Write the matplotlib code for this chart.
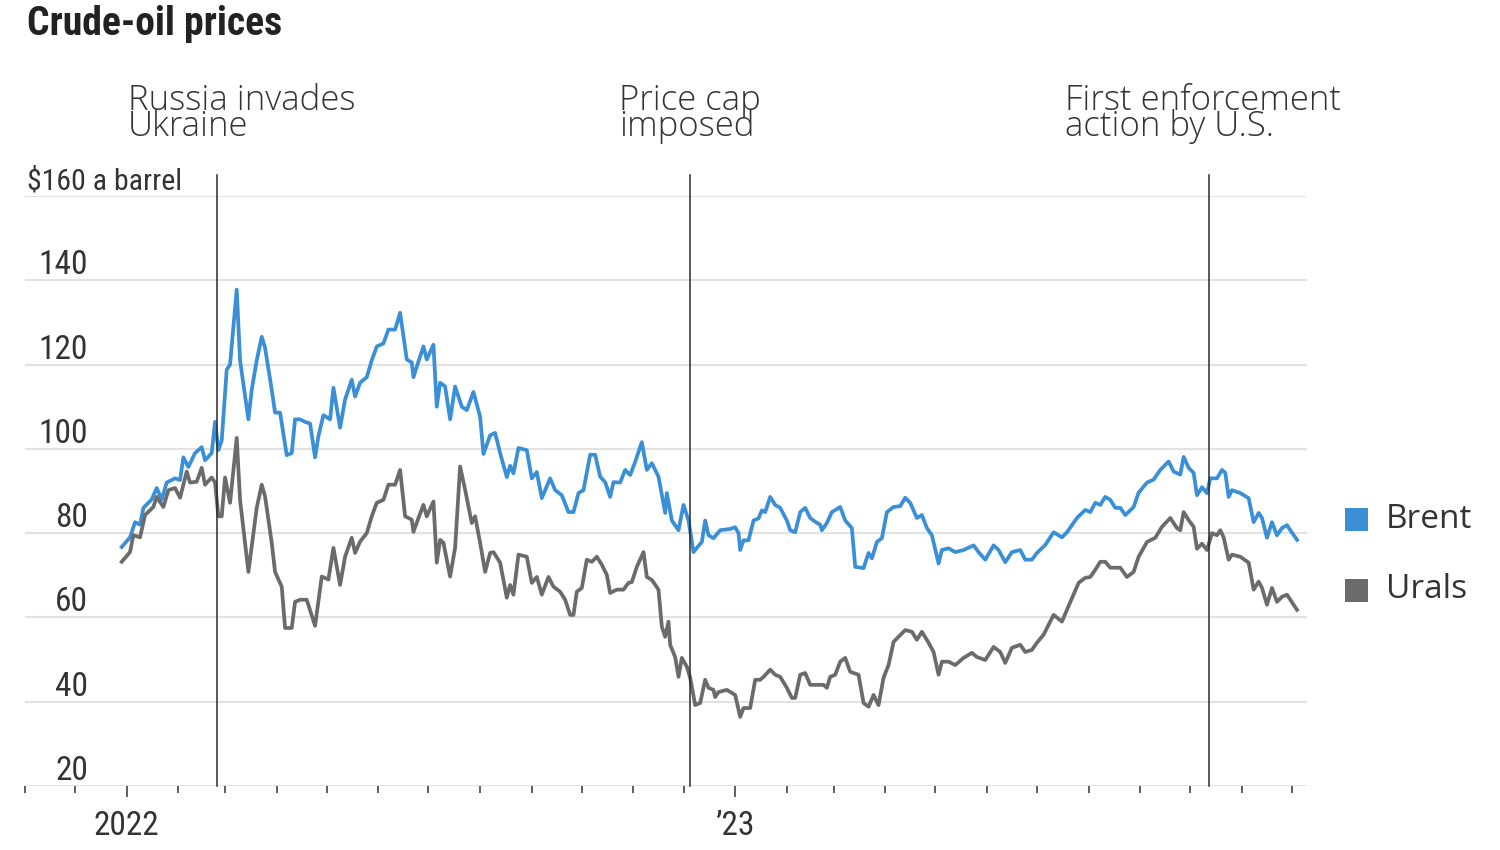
import matplotlib
matplotlib.use("Agg")
import matplotlib.pyplot as plt
import matplotlib.dates as mdates
import matplotlib.transforms as mtransforms
from matplotlib.patches import Rectangle
from matplotlib import font_manager
import pandas as pd

# ---- data ----
brent_dates = [
    "2021-12-29", "2022-01-03", "2022-01-06", "2022-01-09", "2022-01-11", "2022-01-16", "2022-01-19", "2022-01-22", "2022-01-25", "2022-01-30",
    "2022-02-02", "2022-02-04", "2022-02-07", "2022-02-11", "2022-02-15", "2022-02-17", "2022-02-21", "2022-02-23", "2022-02-25", "2022-02-27",
    "2022-03-02", "2022-03-04", "2022-03-08", "2022-03-10", "2022-03-15", "2022-03-17", "2022-03-20", "2022-03-23", "2022-03-25", "2022-03-29", "2022-03-31",
    "2022-04-03", "2022-04-07", "2022-04-10", "2022-04-12", "2022-04-15", "2022-04-18", "2022-04-21", "2022-04-24", "2022-04-26", "2022-04-29",
    "2022-05-03", "2022-05-05", "2022-05-09", "2022-05-12", "2022-05-16", "2022-05-18", "2022-05-21", "2022-05-25", "2022-05-28", "2022-05-31",
    "2022-06-04", "2022-06-07", "2022-06-11", "2022-06-14", "2022-06-18", "2022-06-21", "2022-06-22", "2022-06-25", "2022-06-28", "2022-06-30",
    "2022-07-04", "2022-07-06", "2022-07-08", "2022-07-11", "2022-07-14", "2022-07-17", "2022-07-21", "2022-07-24", "2022-07-28",
    "2022-08-01", "2022-08-03", "2022-08-07", "2022-08-10", "2022-08-13", "2022-08-17", "2022-08-19", "2022-08-21", "2022-08-24", "2022-08-29",
    "2022-09-01", "2022-09-04", "2022-09-07", "2022-09-12", "2022-09-15", "2022-09-19", "2022-09-23", "2022-09-26", "2022-09-29",
    "2022-10-02", "2022-10-06", "2022-10-09", "2022-10-12", "2022-10-15", "2022-10-18", "2022-10-20", "2022-10-24", "2022-10-27", "2022-10-30",
    "2022-11-02", "2022-11-06", "2022-11-09", "2022-11-12", "2022-11-16", "2022-11-20", "2022-11-21", "2022-11-24", "2022-11-28",
    "2022-12-01", "2022-12-04", "2022-12-07", "2022-12-10", "2022-12-12", "2022-12-14", "2022-12-16", "2022-12-19", "2022-12-23", "2022-12-29",
    "2023-01-01", "2023-01-03", "2023-01-04", "2023-01-06", "2023-01-09", "2023-01-12", "2023-01-15", "2023-01-17", "2023-01-19", "2023-01-22", "2023-01-25", "2023-01-28",
    "2023-02-01", "2023-02-03", "2023-02-06", "2023-02-09", "2023-02-12", "2023-02-15", "2023-02-18", "2023-02-21", "2023-02-22", "2023-02-25", "2023-02-28",
    "2023-03-05", "2023-03-08", "2023-03-12", "2023-03-14", "2023-03-19", "2023-03-22", "2023-03-24", "2023-03-27", "2023-03-30",
    "2023-04-02", "2023-04-06", "2023-04-10", "2023-04-13", "2023-04-16", "2023-04-20", "2023-04-23", "2023-04-26", "2023-04-29",
    "2023-05-03", "2023-05-05", "2023-05-09", "2023-05-13", "2023-05-18", "2023-05-24", "2023-05-27", "2023-05-31",
    "2023-06-05", "2023-06-08", "2023-06-12", "2023-06-16", "2023-06-21", "2023-06-24", "2023-06-28",
    "2023-07-01", "2023-07-06", "2023-07-11", "2023-07-16", "2023-07-19", "2023-07-25", "2023-07-30",
    "2023-08-02", "2023-08-05", "2023-08-08", "2023-08-11", "2023-08-14", "2023-08-17", "2023-08-20", "2023-08-23", "2023-08-28", "2023-08-31",
    "2023-09-05", "2023-09-09", "2023-09-13", "2023-09-18", "2023-09-21", "2023-09-25", "2023-09-27", "2023-09-30",
    "2023-10-03", "2023-10-05", "2023-10-08", "2023-10-11", "2023-10-13", "2023-10-17", "2023-10-20", "2023-10-22", "2023-10-24", "2023-10-26", "2023-10-31",
    "2023-11-05", "2023-11-08", "2023-11-11", "2023-11-13", "2023-11-16", "2023-11-19", "2023-11-22", "2023-11-25", "2023-11-28", "2023-11-30",
    "2023-12-04",
]
brent_values = [
    76.7, 79, 82.6, 82, 86, 88, 90.7, 88, 92, 93,
    92.6, 98, 95.7, 99, 100.4, 97.3, 99, 106.4, 99.7, 102,
    118.8, 120, 137.8, 121, 107, 114, 121, 126.6, 124, 114, 108.6,
    108.6, 98.5, 99, 107, 107, 106.4, 106, 98, 103, 108,
    107, 114.5, 105, 111.7, 116.4, 112.4, 115.7, 117, 121, 124.3,
    125, 128.3, 128.3, 132.3, 121.2, 120.5, 117, 120.7, 124.3, 121.2,
    124.7, 110, 115.7, 114.8, 107, 114.8, 110, 109.2, 113.5,
    107.6, 98.8, 103.2, 103.8, 99, 93.3, 96, 94.2, 100.2, 99.7,
    93, 94.5, 88.3, 93, 90.2, 89, 85, 85, 89.5,
    90.2, 98.6, 98.6, 93.4, 92.1, 88.6, 92.1, 92, 95, 93.8,
    96.9, 101.6, 95, 96.6, 93.4, 84.8, 89.5, 83, 80.7,
    86.7, 83, 75.5, 77, 77.9, 83, 79.5, 78.8, 80.7, 81,
    81.4, 80, 76, 78.3, 78.3, 83, 83.5, 85.4, 85, 88.6, 86.7, 86,
    83, 80.7, 80.2, 85, 86, 83.6, 82.7, 82, 80.7, 82.4, 85,
    86.2, 83, 81.2, 72, 71.7, 75.3, 74, 77.9, 78.8,
    85, 86.2, 86.4, 88.4, 87.2, 83.6, 84.3, 81.2, 79.5,
    72.8, 76, 76.4, 75.5, 76, 77.1, 75.5, 73.7,
    77.1, 76, 73.1, 75.5, 76, 73.7, 73.7,
    75.3, 77.2, 80.2, 79, 80.2, 83.6, 85.5,
    85, 87.2, 86.7, 88.6, 87.9, 86, 86, 84.3, 86.2, 89.6,
    92, 92.7, 95, 97, 94.6, 93.9, 98.1, 95.5,
    94.3, 89, 90.9, 89.5, 93, 93, 95, 94.3, 88.6, 90.2, 89.5,
    88.3, 82.6, 84.8, 83.6, 78.9, 82.6, 79.5, 81.2, 81.9, 80.7,
    78.4,
]

urals_dates = [
    "2021-12-29", "2022-01-03", "2022-01-05", "2022-01-09", "2022-01-12", "2022-01-17", "2022-01-19", "2022-01-23", "2022-01-26", "2022-01-30",
    "2022-02-02", "2022-02-06", "2022-02-08", "2022-02-12", "2022-02-15", "2022-02-17", "2022-02-21", "2022-02-23", "2022-02-25", "2022-02-27",
    "2022-03-01", "2022-03-04", "2022-03-08", "2022-03-10", "2022-03-15", "2022-03-18", "2022-03-20", "2022-03-23", "2022-03-25", "2022-03-29", "2022-03-31",
    "2022-04-04", "2022-04-06", "2022-04-10", "2022-04-12", "2022-04-15", "2022-04-19", "2022-04-24", "2022-04-28",
    "2022-05-02", "2022-05-05", "2022-05-09", "2022-05-12", "2022-05-16", "2022-05-18", "2022-05-21", "2022-05-25", "2022-05-28", "2022-05-31",
    "2022-06-04", "2022-06-07", "2022-06-11", "2022-06-14", "2022-06-17", "2022-06-21", "2022-06-22", "2022-06-25", "2022-06-28", "2022-06-30",
    "2022-07-04", "2022-07-06", "2022-07-08", "2022-07-10", "2022-07-14", "2022-07-17", "2022-07-20", "2022-07-23", "2022-07-27", "2022-07-29",
    "2022-08-01", "2022-08-04", "2022-08-07", "2022-08-09", "2022-08-13", "2022-08-17", "2022-08-19", "2022-08-21", "2022-08-24", "2022-08-29",
    "2022-09-01", "2022-09-04", "2022-09-07", "2022-09-11", "2022-09-14", "2022-09-18", "2022-09-21", "2022-09-24", "2022-09-26", "2022-09-28",
    "2022-10-01", "2022-10-04", "2022-10-07", "2022-10-10", "2022-10-13", "2022-10-16", "2022-10-18", "2022-10-22", "2022-10-26", "2022-10-29", "2022-10-31",
    "2022-11-03", "2022-11-07", "2022-11-09", "2022-11-12", "2022-11-16", "2022-11-18", "2022-11-20", "2022-11-22", "2022-11-23", "2022-11-26", "2022-11-28", "2022-11-30",
    "2022-12-03", "2022-12-05", "2022-12-08", "2022-12-11", "2022-12-14", "2022-12-16", "2022-12-19", "2022-12-20", "2022-12-22", "2022-12-27",
    "2023-01-01", "2023-01-04", "2023-01-06", "2023-01-10", "2023-01-13", "2023-01-16", "2023-01-18", "2023-01-22", "2023-01-25", "2023-01-28",
    "2023-02-01", "2023-02-04", "2023-02-06", "2023-02-09", "2023-02-12", "2023-02-15", "2023-02-23", "2023-02-25", "2023-02-27",
    "2023-03-02", "2023-03-05", "2023-03-08", "2023-03-11", "2023-03-16", "2023-03-19", "2023-03-22", "2023-03-25", "2023-03-28", "2023-03-31",
    "2023-04-03", "2023-04-06", "2023-04-09", "2023-04-13", "2023-04-17", "2023-04-20", "2023-04-23", "2023-04-27", "2023-04-30",
    "2023-05-03", "2023-05-05", "2023-05-09", "2023-05-13", "2023-05-18", "2023-05-23", "2023-05-26", "2023-05-31",
    "2023-06-05", "2023-06-09", "2023-06-12", "2023-06-16", "2023-06-21", "2023-06-24", "2023-06-28",
    "2023-07-01", "2023-07-05", "2023-07-11", "2023-07-16", "2023-07-19", "2023-07-26", "2023-07-30",
    "2023-08-02", "2023-08-05", "2023-08-08", "2023-08-11", "2023-08-14", "2023-08-20", "2023-08-24", "2023-08-28", "2023-08-31",
    "2023-09-05", "2023-09-10", "2023-09-14", "2023-09-19", "2023-09-23", "2023-09-25", "2023-09-27", "2023-09-30",
    "2023-10-03", "2023-10-05", "2023-10-08", "2023-10-11", "2023-10-14", "2023-10-17", "2023-10-19", "2023-10-21", "2023-10-24", "2023-10-26", "2023-10-31",
    "2023-11-05", "2023-11-08", "2023-11-11", "2023-11-13", "2023-11-16", "2023-11-19", "2023-11-22", "2023-11-25", "2023-11-28", "2023-11-30",
    "2023-12-04",
]
urals_values = [
    73.2, 75.5, 79.5, 79, 84.3, 86.2, 88.6, 86.2, 90.2, 90.7,
    88.4, 94.6, 92, 92.2, 95.5, 91.5, 93.2, 92, 84, 84,
    93.2, 87.2, 102.6, 87.9, 70.8, 80, 86, 91.5, 88.7, 77.7, 70.8,
    67.3, 57.5, 57.5, 63.7, 64.2, 64.2, 58, 69.7,
    69, 76.5, 67.7, 74.4, 78.9, 75.3, 78, 80, 84, 87.2,
    87.9, 91.5, 91.5, 95, 84, 83.2, 80.3, 83.6, 86.7, 84,
    87.5, 73, 78.4, 77.7, 69.7, 76.5, 95.8, 90.3, 82.4, 84,
    77.7, 70.8, 75.3, 75.5, 73, 64.7, 67.7, 65.4, 74.9, 74.4,
    68.2, 69.6, 65.4, 69.6, 67.3, 66.1, 64.2, 60.6, 60.6, 66.1,
    67, 73.7, 73.2, 74.4, 72.5, 70.1, 65.8, 66.6, 66.6, 68.2, 68.4,
    72, 75.5, 69.6, 68.9, 66.6, 57.8, 55.4, 59, 53.5, 50.6, 45.9, 50.4,
    48.3, 45.7, 39.2, 39.7, 45.2, 43.3, 42.8, 41.1, 42.3, 42.8,
    41.6, 36.4, 38.5, 38.5, 45.2, 45.2, 45.9, 47.6, 46.4, 45.9,
    43.3, 40.9, 40.9, 46.4, 46.8, 44, 44, 43.3, 45.9,
    46.4, 49.5, 50.4, 47.1, 46.4, 39.7, 38.8, 41.6, 39.2, 45.7,
    48.7, 54.2, 55.4, 57, 56.6, 54.7, 56.6, 54, 51.8,
    46.4, 49.5, 49.5, 48.7, 50.4, 51.6, 50.6, 49.9,
    53, 51.8, 49.2, 52.8, 53.5, 51.8, 52.3,
    54, 55.9, 60.6, 59, 61.8, 68.2, 69.4,
    69.6, 71.3, 73.2, 73.2, 71.8, 71.8, 69.6, 70.8, 74.4,
    77.9, 78.9, 81.5, 83.6, 81.2, 80.7, 85, 83.1,
    81.5, 76.3, 77.5, 76, 80, 79.5, 80.7, 79, 73.7, 74.9, 74.4,
    73, 66.6, 68.5, 67, 63, 67, 63.7, 64.9, 65.4, 64.2,
    61.8,
]

event_dates = ["2022-02-24", "2022-12-05", "2023-10-12"]
event_labels = ["Russia invades\nUkraine", "Price cap\nimposed", "First enforcement\naction by U.S."]
event_label_x = [128, 619, 1065]  # left edge of the labels, pixels

y_ticks = [20, 40, 60, 80, 100, 120, 140, 160]
series_names = ["Brent", "Urals"]
series_colors = ["#3a8fd6", "#6b6b6b"]

W, H = 1500, 850
fx = lambda px: px / W
fy = lambda py: 1 - py / H

# a condensed face for the numbers / title if one is installed
names = {f.name for f in font_manager.fontManager.ttflist}
narrow_fam = None
for cand in ["Liberation Sans Narrow", "Roboto Condensed", "Open Sans Condensed", "DejaVu Sans Condensed"]:
    if cand in names:
        narrow_fam = cand
        break
cond = [f for f in font_manager.fontManager.ttflist if f.name == "DejaVu Sans" and "ondensed" in f.fname]
if narrow_fam is None and cond:
    narrow = dict(family="DejaVu Sans", stretch="condensed")
    nscale = 1.0
elif narrow_fam:
    narrow = dict(family=narrow_fam)
    nscale = 1.0
else:
    narrow = dict(family="Roboto")
    nscale = 0.9

light = dict(family="Open Sans", fontweight="light")
ink = "#333333"

fig = plt.figure(figsize=(15, 8.5), dpi=100, facecolor="white")
ax = fig.add_axes([fx(25), fy(786), (1307 - 25) / W, (786 - 196) / H])

brent = pd.Series(brent_values, index=pd.to_datetime(brent_dates))
urals = pd.Series(urals_values, index=pd.to_datetime(urals_dates))
ax.plot(brent.index, brent.values, color=series_colors[0], lw=2.7, zorder=3)
ax.plot(urals.index, urals.values, color=series_colors[1], lw=2.7, zorder=3)

ax.set_xlim(pd.Timestamp("2021-11-01"), pd.Timestamp("2023-12-10"))
ax.set_ylim(20, 160)

# grid + y labels sitting on top of the gridlines
ax.set_yticks(y_ticks)
ax.yaxis.grid(True, color="#e2e2e2", lw=1.5)
ax.tick_params(axis="y", length=0, labelleft=False)
for s in ax.spines.values():
    s.set_visible(False)
ax.set_axisbelow(True)

lab_tr = mtransforms.offset_copy(ax.get_yaxis_transform(), fig=fig, x=0, y=6, units="dots")
for v in y_ticks:
    if v == 160:
        ax.text(0.0016, v, "$160 a barrel", transform=lab_tr, ha="left", va="baseline",
                fontsize=21.5 * nscale, color=ink, **narrow)
    else:
        ax.text(0.0491, v, str(v), transform=lab_tr, ha="right", va="baseline",
                fontsize=24 * nscale, color=ink, **narrow)

# x ticks: months, year labels
ax.xaxis.set_major_locator(mdates.YearLocator())
ax.xaxis.set_minor_locator(mdates.MonthLocator())
ax.xaxis.set_major_formatter(plt.FuncFormatter(
    lambda x, p: "2022" if mdates.num2date(x).year == 2022 else "\u2019" + mdates.num2date(x).strftime("%y")))
ax.tick_params(axis="x", which="major", length=8, width=1.1, color=ink, pad=9, labelsize=24 * nscale, labelcolor=ink)
ax.tick_params(axis="x", which="minor", length=5, width=1.1, color=ink)
for lab in ax.get_xticklabels():
    lab.set_family(narrow["family"])
    if "stretch" in narrow:
        lab.set_stretch(narrow["stretch"])

# event lines and labels
top_frac = (786 - 175) / (786 - 196)
for d, lab, lx in zip(event_dates, event_labels, event_label_x):
    ax.axvline(pd.Timestamp(d), ymin=0, ymax=top_frac, clip_on=False, color="#2a2a2a", lw=1.1, zorder=4)
    fig.text(fx(lx), fy(84), lab, ha="left", va="top", fontsize=25, linespacing=0.66,
             color=ink, **light)

# title
fig.text(fx(27), fy(35), "Crude-oil prices", ha="left", va="baseline", fontsize=28.5 * nscale,
         fontweight="bold", color="#222222", **narrow)

# legend
for name, col, cy in zip(series_names, series_colors, [519, 590]):
    fig.add_artist(Rectangle((fx(1345), fy(cy + 11.5)), 23 / W, 23 / H, transform=fig.transFigure,
                             facecolor=col, edgecolor="none"))
    fig.text(fx(1386), fy(cy), name, ha="left", va="center", fontsize=24, family="Open Sans", color=ink)

fig.savefig("out.png", dpi=100, facecolor="white")
